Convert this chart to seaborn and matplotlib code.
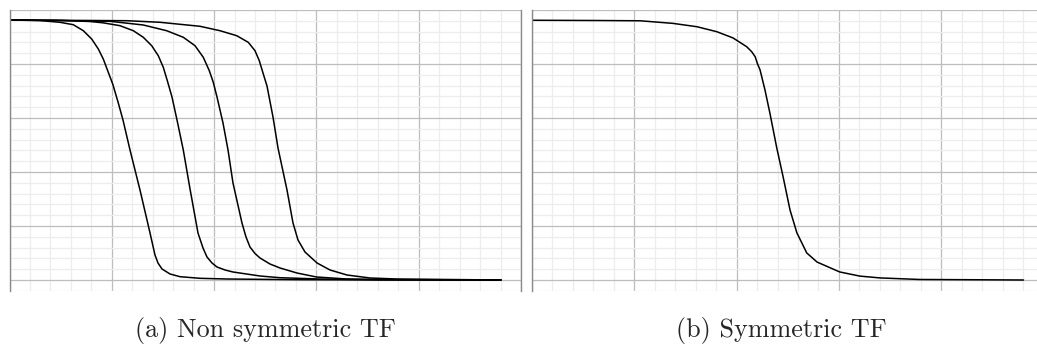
import numpy as np
import pandas as pd
import matplotlib
matplotlib.use("Agg")
import matplotlib.pyplot as plt
import seaborn as sns

# ---- data (x = normalised input, y = TF output) ----
c1_x = [0.0, 0.0621, 0.1027, 0.1298, 0.1502, 0.1672, 0.1807, 0.1908, 0.2010, 0.2100,
        0.2208, 0.2309, 0.2452, 0.2655, 0.2859, 0.2960, 0.3021, 0.3103, 0.3266, 0.3469,
        0.3876, 0.4425, 0.5910, 0.7945, 1.0]
c1_y = [1.0, 0.9977, 0.9912, 0.9819, 0.9588, 0.9269, 0.8885, 0.8500, 0.7988, 0.7538,
        0.6846, 0.6154, 0.5000, 0.3462, 0.1808, 0.0962, 0.0654, 0.0423, 0.0231, 0.0127,
        0.0065, 0.0038, 0.0012, 0.0, 0.0]

c2_x = [0.0, 0.1027, 0.1638, 0.1902, 0.2248, 0.2519, 0.2722, 0.2893, 0.3027, 0.3129,
        0.3211, 0.3306, 0.3408, 0.3536, 0.3673, 0.3835, 0.3937, 0.4018, 0.4120, 0.4222,
        0.4385, 0.4547, 0.5097, 0.5504, 0.6317, 0.7538, 1.0]
c2_y = [1.0, 0.9988, 0.9942, 0.9892, 0.9781, 0.9588, 0.9335, 0.9012, 0.8627, 0.8181,
        0.7665, 0.7038, 0.6154, 0.5000, 0.3500, 0.1808, 0.1231, 0.0885, 0.0654, 0.0500,
        0.0385, 0.0308, 0.0154, 0.0088, 0.0038, 0.0012, 0.0]

c3_x = [0.0, 0.2045, 0.2722, 0.3198, 0.3536, 0.3774, 0.3943, 0.4065, 0.4146, 0.4222,
        0.4344, 0.4446, 0.4547, 0.4730, 0.4812, 0.4893, 0.4995, 0.5097, 0.5300, 0.5504,
        0.5849, 0.6246, 0.6867, 0.7538, 1.0]
c3_y = [1.0, 0.9950, 0.9808, 0.9588, 0.9335, 0.9012, 0.8565, 0.8050, 0.7604, 0.7038,
        0.6038, 0.5000, 0.3731, 0.2192, 0.1654, 0.1269, 0.1019, 0.0846, 0.0615, 0.0462,
        0.0269, 0.0115, 0.0038, 0.0019, 0.0]

c4_x = [0.0, 0.2385, 0.3062, 0.3876, 0.4283, 0.4623, 0.4858, 0.4995, 0.5082, 0.5164,
        0.5239, 0.5361, 0.5463, 0.5646, 0.5768, 0.5870, 0.6012, 0.6257, 0.6521, 0.6867,
        0.7335, 0.7884, 1.0]
c4_y = [1.0, 0.9973, 0.9912, 0.9758, 0.9588, 0.9396, 0.9142, 0.8819, 0.8435, 0.7923,
        0.7462, 0.6269, 0.5077, 0.3462, 0.2192, 0.1538, 0.1077, 0.0654, 0.0385, 0.0192,
        0.0077, 0.0038, 0.0]

sym_x = [0.0, 0.138, 0.220, 0.287, 0.336, 0.376, 0.409, 0.437, 0.447, 0.454, 0.4584,
         0.464, 0.474, 0.484, 0.498, 0.511, 0.525, 0.539, 0.559, 0.580, 0.626, 0.667,
         0.708, 0.789, 1.0]
sym_y = [0.999, 0.998, 0.997, 0.987, 0.974, 0.955, 0.931, 0.897, 0.878, 0.859, 0.8335,
         0.808, 0.731, 0.642, 0.508, 0.396, 0.269, 0.181, 0.104, 0.069, 0.031, 0.015,
         0.008, 0.002, 0.0]

captions = ["(a) Non symmetric TF", "(b) Symmetric TF"]

# ---- styling ----
sns.set_style("white")
W, H = 1037, 346
fig = plt.figure(figsize=(W / 100, H / 100), dpi=100)

ax_w = 511.5 / W
ax_h = 281 / H
ax_b = (H - 291) / H
axL = fig.add_axes([9.5 / W, ax_b, ax_w, ax_h])
axR = fig.add_axes([532 / W, ax_b, ax_w, ax_h])

unit_x = 491.5  # px per x unit
unit_y = 260.0  # px per y unit
xlim = (0.0, 511.5 / unit_x)
ylim = (-11 / unit_y, 270 / unit_y)
maj_dx = 511.5 / 5 / unit_x
maj_dy = 54 / unit_y

for ax in (axL, axR):
    ax.set_xlim(*xlim)
    ax.set_ylim(*ylim)
    ax.set_xticks(np.arange(0, 6) * maj_dx)
    ax.set_xticks(np.arange(0, 26) * maj_dx / 5, minor=True)
    ax.set_yticks(np.arange(0, 6) * maj_dy)
    ax.set_yticks(np.arange(-1, 26) * maj_dy / 5, minor=True)
    ax.grid(which="minor", color="#ededed", lw=0.9)
    ax.grid(which="major", color="#bdbdbd", lw=0.9)
    ax.set_axisbelow(True)
    ax.tick_params(which="both", length=0, labelbottom=False, labelleft=False)
    for s in ("top", "bottom"):
        ax.spines[s].set_visible(False)
    for s in ("left", "right"):
        ax.spines[s].set_color("#8a8a8a")
        ax.spines[s].set_linewidth(1.0)

for cx, cy in [(c1_x, c1_y), (c2_x, c2_y), (c3_x, c3_y), (c4_x, c4_y)]:
    sns.lineplot(x=cx, y=cy, ax=axL, color="black", lw=1.1, estimator=None, sort=False)
sns.lineplot(x=sym_x, y=sym_y, ax=axR, color="black", lw=1.1, estimator=None, sort=False)

for ax in (axL, axR):
    ax.set_xlabel("")
    ax.set_ylabel("")
    for ln in ax.lines:
        ln.set_solid_joinstyle("round")
        ln.set_solid_capstyle("round")

fig.text(265 / W, (H - 331) / H, captions[0], ha="center", va="center",
         family="cmr10", fontsize=18.8)
fig.text(781 / W, (H - 331) / H, captions[1], ha="center", va="center",
         family="cmr10", fontsize=18.8)

fig.savefig("out.png", dpi=100)
